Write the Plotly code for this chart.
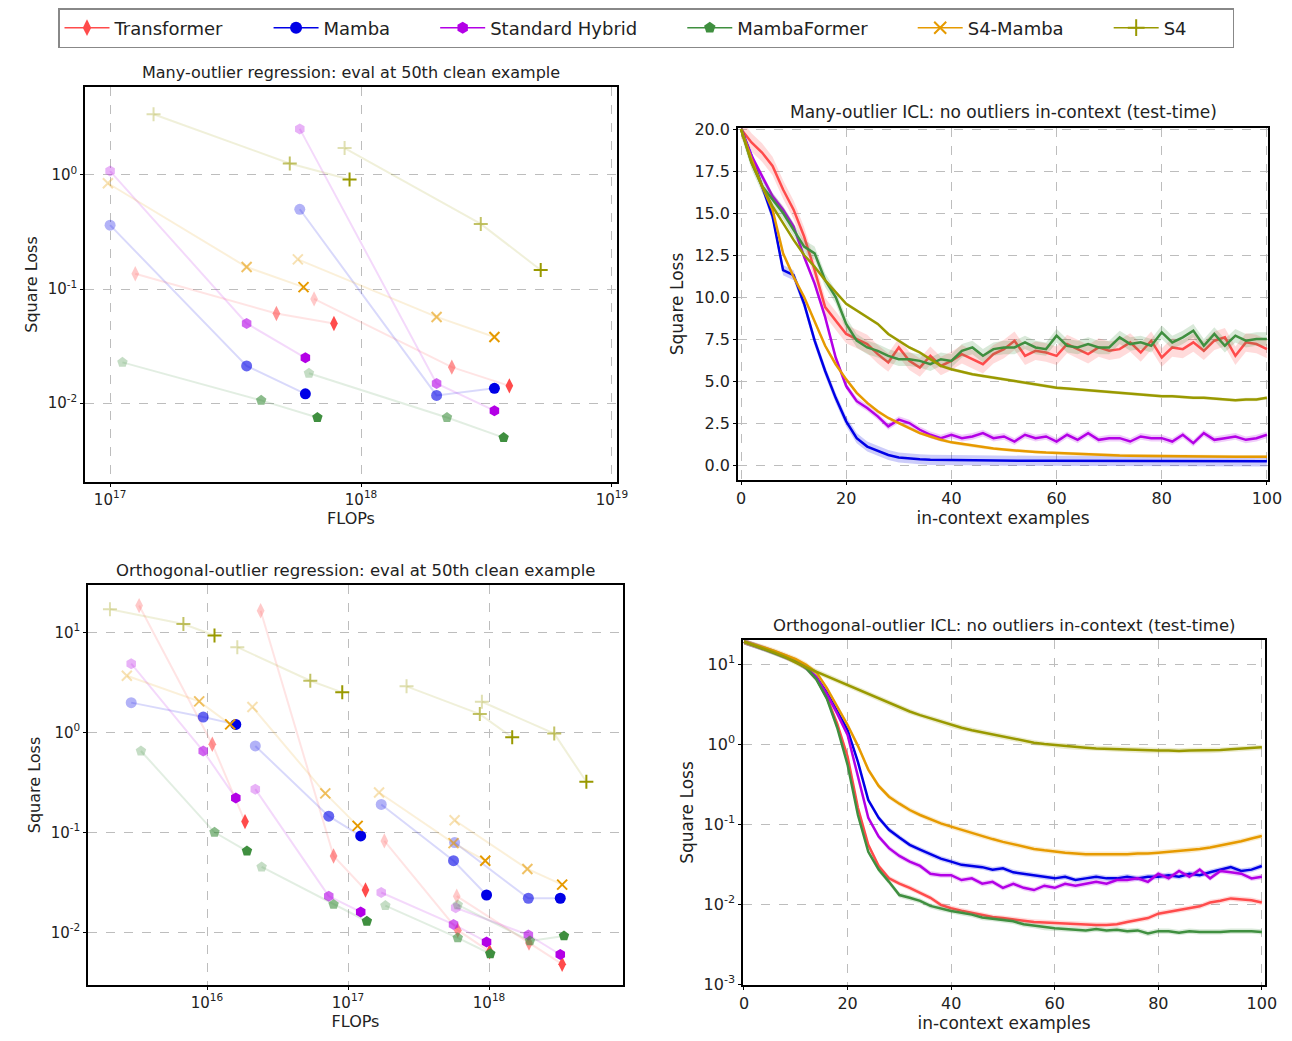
import numpy as np
import plotly.graph_objects as go
from plotly.subplots import make_subplots

# ---- models / styles ----
models = ["Transformer", "Mamba", "Standard Hybrid", "MambaFormer", "S4-Mamba", "S4"]
colors = ["#ff4b4b", "#0000e6", "#b300e6", "#3f8f3f", "#e69a00", "#999900"]
symbols = ["diamond-tall", "circle", "hexagon", "pentagon", "x-thin-open", "cross-thin-open"]

# ---- top-left: many-outlier regression (FLOPs, loss), 2 groups per model ----
tl_flops = {
    "Transformer": [[1.26e17, 4.6e17, 7.8e17], [6.5e17, 2.3e18, 3.9e18]],
    "Mamba": [[1.0e17, 3.5e17, 6.0e17], [5.7e17, 2.0e18, 3.4e18]],
    "Standard Hybrid": [[1.0e17, 3.5e17, 6.0e17], [5.7e17, 2.0e18, 3.4e18]],
    "MambaFormer": [[1.12e17, 4.0e17, 6.7e17], [6.2e17, 2.2e18, 3.7e18]],
    "S4-Mamba": [[9.8e16, 3.5e17, 5.9e17], [5.6e17, 2.0e18, 3.4e18]],
    "S4": [[1.49e17, 5.2e17, 9.0e17], [8.6e17, 3.0e18, 5.2e18]],
}
tl_loss = {
    "Transformer": [[0.136, 0.061, 0.050], [0.082, 0.0207, 0.0142]],
    "Mamba": [[0.363, 0.0212, 0.0121], [0.50, 0.0117, 0.0135]],
    "Standard Hybrid": [[1.08, 0.050, 0.025], [2.53, 0.0149, 0.0086]],
    "MambaFormer": [[0.0228, 0.0106, 0.0075], [0.0183, 0.0075, 0.0050]],
    "S4-Mamba": [[0.845, 0.156, 0.104], [0.182, 0.057, 0.038]],
    "S4": [[3.4, 1.26, 0.91], [1.72, 0.372, 0.147]],
}

# ---- bottom-left: orthogonal-outlier regression, 4 groups per model ----
bl_flops = {
    "Transformer": [[3.3e15, 1.09e16, 1.86e16], [2.4e16, 7.9e16, 1.33e17],
                    [1.81e17, 6.0e17, 1.01e18], [5.9e17, 1.92e18, 3.3e18]],
    "Mamba": [[2.9e15, 9.4e15, 1.6e16], [2.2e16, 7.3e16, 1.23e17],
              [1.72e17, 5.6e17, 9.6e17], [5.7e17, 1.9e18, 3.2e18]],
    "Standard Hybrid": [[2.9e15, 9.4e15, 1.6e16], [2.2e16, 7.3e16, 1.23e17],
                        [1.72e17, 5.6e17, 9.6e17], [5.8e17, 1.9e18, 3.2e18]],
    "MambaFormer": [[3.4e15, 1.13e16, 1.92e16], [2.44e16, 7.9e16, 1.36e17],
                    [1.84e17, 6.0e17, 1.02e18], [6.0e17, 1.95e18, 3.4e18]],
    "S4-Mamba": [[2.7e15, 8.8e15, 1.46e16], [2.1e16, 6.9e16, 1.17e17],
                 [1.66e17, 5.6e17, 9.4e17], [5.7e17, 1.87e18, 3.3e18]],
    "S4": [[2.05e15, 6.8e15, 1.13e16], [1.64e16, 5.4e16, 9.1e16],
           [2.6e17, 8.6e17, 1.46e18], [8.9e17, 2.9e18, 4.9e18]],
}
bl_loss = {
    "Transformer": [[18.5, 0.76, 0.128], [16.4, 0.058, 0.0265],
                    [0.082, 0.0105, 0.0064], [0.023, 0.0078, 0.0048]],
    "Mamba": [[1.98, 1.42, 1.2], [0.73, 0.145, 0.092],
              [0.19, 0.052, 0.0236], [0.079, 0.0219, 0.0219]],
    "Standard Hybrid": [[4.85, 0.65, 0.22], [0.27, 0.023, 0.016],
                        [0.025, 0.012, 0.008], [0.0176, 0.0094, 0.006]],
    "MambaFormer": [[0.65, 0.10, 0.065], [0.045, 0.019, 0.0129],
                    [0.0185, 0.0088, 0.0061], [0.0188, 0.0082, 0.0092]],
    "S4-Mamba": [[3.68, 2.04, 1.2], [1.79, 0.245, 0.116],
                 [0.25, 0.078, 0.052], [0.132, 0.043, 0.030]],
    "S4": [[17.0, 12.1, 9.3], [7.1, 3.28, 2.51],
           [2.88, 1.52, 0.89], [2.02, 0.97, 0.32]],
}

# ---- right panels: loss vs in-context examples (every 2nd example) ----
icl_x = list(range(0, 101, 2))
tr_loss = {
    "Transformer": [20, 19.2, 18.6, 17.8, 16.4, 15.2, 13.6, 11.6, 9.4, 8.6, 7.8, 7.5, 7.2, 6.6, 6.1, 7.0,
                    6.2, 5.8, 6.5, 5.9, 6.2, 6.6, 6.3, 6.0, 6.6, 6.9, 7.4, 6.5, 6.8, 6.7, 6.5, 7.2,
                    6.9, 6.6, 7.0, 6.8, 6.9, 7.3, 6.7, 7.4, 6.4, 7.0, 6.9, 7.3, 6.8, 7.4, 7.6, 6.5,
                    7.3, 7.2, 6.9],
    "Mamba": [20, 18.4, 16.6, 14.8, 11.6, 11.3, 9.6, 7.4, 5.6, 4.0, 2.6, 1.6, 1.1, 0.85, 0.6, 0.45,
              0.38, 0.34, 0.31, 0.30, 0.29, 0.28, 0.28, 0.27, 0.27, 0.26, 0.26, 0.26, 0.25, 0.25, 0.25,
              0.25, 0.24, 0.24, 0.24, 0.24, 0.24, 0.23, 0.23, 0.23, 0.23, 0.23, 0.23, 0.23, 0.22, 0.22,
              0.22, 0.22, 0.22, 0.22, 0.22],
    "Standard Hybrid": [20, 18.4, 17.2, 16.0, 15.2, 14.2, 12.4, 10.8, 8.8, 6.4, 4.7, 3.8, 3.4, 2.9, 2.3,
                        2.7, 2.5, 2.1, 1.8, 1.6, 1.8, 1.6, 1.7, 1.9, 1.6, 1.7, 1.4, 1.8, 1.6, 1.7, 1.4,
                        1.8, 1.5, 1.9, 1.5, 1.6, 1.6, 1.4, 1.7, 1.6, 1.6, 1.4, 1.8, 1.3, 1.9, 1.5, 1.6,
                        1.7, 1.5, 1.6, 1.8],
    "MambaFormer": [20, 18.0, 16.6, 15.8, 15.0, 14.0, 13.0, 12.6, 11.0, 10.0, 8.4, 7.4, 7.0, 6.8, 6.5,
                    6.3, 6.3, 6.2, 6.0, 6.3, 6.2, 6.8, 7.0, 6.5, 6.9, 7.0, 7.0, 7.3, 7.0, 6.9, 7.7,
                    7.1, 7.0, 7.2, 7.0, 7.0, 7.6, 7.2, 7.3, 7.1, 7.9, 7.3, 7.6, 8.0, 7.1, 7.8, 7.1,
                    7.7, 7.4, 7.5, 7.5],
    "S4-Mamba": [20, 18.2, 16.6, 15.2, 12.6, 11.2, 10.0, 8.5, 7.1, 6.0, 5.1, 4.3, 3.7, 3.2, 2.8, 2.5,
                 2.2, 1.9, 1.7, 1.5, 1.35, 1.25, 1.15, 1.05, 0.98, 0.92, 0.86, 0.82, 0.78, 0.74, 0.71,
                 0.68, 0.65, 0.63, 0.61, 0.59, 0.57, 0.56, 0.55, 0.54, 0.53, 0.52, 0.52, 0.51, 0.51,
                 0.5, 0.5, 0.5, 0.5, 0.5, 0.5],
    "S4": [20, 18.0, 16.6, 15.4, 14.4, 13.4, 12.5, 11.8, 11.0, 10.3, 9.6, 9.2, 8.8, 8.4, 7.8, 7.4,
           7.0, 6.7, 6.3, 5.9, 5.7, 5.55, 5.4, 5.3, 5.2, 5.1, 5.0, 4.9, 4.8, 4.7, 4.6, 4.55, 4.5,
           4.45, 4.4, 4.35, 4.3, 4.25, 4.2, 4.15, 4.1, 4.1, 4.05, 4.0, 4.0, 3.95, 3.9, 3.85, 3.9,
           3.9, 4.0],
}
br_loss = {
    "Transformer": [19, 17.2, 15.5, 13.9, 12.4, 10.9, 9.0, 6.5, 3.8, 1.8, 0.7, 0.16, 0.055, 0.030,
                    0.021, 0.018, 0.016, 0.014, 0.012, 0.0098, 0.0089, 0.0083, 0.0078, 0.0073, 0.0069,
                    0.0067, 0.0064, 0.0062, 0.0060, 0.0059, 0.0058, 0.0057, 0.0056, 0.0055, 0.0055,
                    0.0055, 0.0056, 0.0060, 0.0064, 0.0067, 0.0076, 0.0080, 0.0085, 0.0089, 0.0094,
                    0.0105, 0.0110, 0.0118, 0.0114, 0.0112, 0.0105],
    "Mamba": [19, 17.3, 15.6, 14.0, 12.5, 11.0, 9.0, 6.8, 4.4, 2.6, 1.5, 0.6, 0.2, 0.12, 0.085, 0.068,
              0.055, 0.048, 0.042, 0.037, 0.034, 0.031, 0.030, 0.029, 0.027, 0.028, 0.025, 0.024,
              0.023, 0.022, 0.021, 0.022, 0.020, 0.021, 0.022, 0.021, 0.021, 0.022, 0.021, 0.022,
              0.022, 0.023, 0.022, 0.024, 0.023, 0.025, 0.027, 0.029, 0.026, 0.027, 0.030],
    "Standard Hybrid": [19, 17.2, 15.5, 13.9, 12.4, 10.9, 9.0, 6.8, 4.2, 2.4, 1.3, 0.41, 0.12, 0.07,
                        0.05, 0.04, 0.034, 0.030, 0.024, 0.023, 0.023, 0.020, 0.021, 0.018, 0.019,
                        0.016, 0.018, 0.016, 0.015, 0.017, 0.016, 0.018, 0.017, 0.018, 0.019, 0.018,
                        0.020, 0.020, 0.021, 0.019, 0.024, 0.021, 0.026, 0.022, 0.027, 0.021, 0.026,
                        0.025, 0.024, 0.021, 0.022],
    "MambaFormer": [19, 17.0, 15.4, 13.8, 12.3, 10.8, 8.9, 6.4, 3.7, 1.6, 0.55, 0.13, 0.045, 0.027,
                    0.019, 0.013, 0.012, 0.011, 0.0095, 0.0088, 0.0082, 0.0078, 0.0074, 0.0068, 0.0066,
                    0.0064, 0.0061, 0.0056, 0.0054, 0.0051, 0.0050, 0.0049, 0.0048, 0.0047, 0.0049,
                    0.0047, 0.0048, 0.0046, 0.0047, 0.0043, 0.0046, 0.0046, 0.0044, 0.0046, 0.0045,
                    0.0045, 0.0045, 0.0046, 0.0046, 0.0046, 0.0045],
    "S4-Mamba": [19, 17.5, 16.0, 14.5, 13.0, 11.5, 9.8, 7.8, 5.0, 3.0, 1.73, 0.95, 0.48, 0.30, 0.22,
                 0.18, 0.15, 0.13, 0.115, 0.102, 0.093, 0.085, 0.077, 0.070, 0.065, 0.060, 0.056,
                 0.052, 0.049, 0.047, 0.045, 0.044, 0.043, 0.042, 0.042, 0.042, 0.042, 0.042, 0.043,
                 0.043, 0.044, 0.045, 0.046, 0.047, 0.049, 0.051, 0.054, 0.057, 0.061, 0.066, 0.071],
    "S4": [19, 17.2, 15.5, 13.8, 12.2, 10.4, 9.1, 8.0, 7.0, 6.2, 5.5, 4.8, 4.2, 3.7, 3.25, 2.85, 2.55,
           2.3, 2.1, 1.9, 1.73, 1.6, 1.49, 1.40, 1.31, 1.23, 1.16, 1.10, 1.04, 1.00, 0.97, 0.94, 0.92,
           0.90, 0.88, 0.87, 0.86, 0.85, 0.84, 0.83, 0.83, 0.83, 0.82, 0.83, 0.83, 0.83, 0.84, 0.86,
           0.88, 0.89, 0.91],
}
# half-width of the shaded error band (linear panel) / relative band (log panel)
tr_band = {"Transformer": 0.55, "Mamba": 0.3, "Standard Hybrid": 0.2, "MambaFormer": 0.4,
           "S4-Mamba": 0.1, "S4": 0.1}
br_band = 0.08

FONT = "DejaVu Sans"
# the page adds an 8px body margin, so the figure is 16px smaller than the window
W, H, OFF = 1276, 1025, 8


def dx(a, b):
    return [(a - OFF) / W, (b - OFF) / W]


def dy(top, bot):
    return [1 - (bot - OFF) / H, 1 - (top - OFF) / H]


fig = make_subplots(rows=2, cols=2)

opac = [0.3, 0.6, 1.0]


def rgba(hexcol, a):
    h = hexcol.lstrip("#")
    return "rgba(%d,%d,%d,%s)" % (int(h[0:2], 16), int(h[2:4], 16), int(h[4:6], 16), a)


def scatter_groups(flops, loss, row, col):
    for m, c, s in zip(models, colors, symbols):
        for fx, ly in zip(flops[m], loss[m]):
            fig.add_trace(go.Scatter(x=fx, y=ly, mode="lines", line=dict(color=rgba(c, 0.15), width=2),
                                     showlegend=False, hoverinfo="skip"), row=row, col=col)
            open_sym = "open" in s
            fig.add_trace(go.Scatter(
                x=fx, y=ly, mode="markers", showlegend=False,
                marker=dict(symbol=s, size=11 if not open_sym else 10, opacity=opac,
                            color=c, line=dict(color=c, width=2 if open_sym else 0))),
                row=row, col=col)


scatter_groups(tl_flops, tl_loss, 1, 1)
scatter_groups(bl_flops, bl_loss, 2, 1)

for m, c in zip(models, colors):
    y = np.array(tr_loss[m])
    b = tr_band[m]
    fig.add_trace(go.Scatter(x=icl_x + icl_x[::-1], y=list(y + b) + list((y - b)[::-1]), fill="toself",
                             fillcolor=rgba(c, 0.2), line=dict(width=0), showlegend=False,
                             hoverinfo="skip"), row=1, col=2)
    fig.add_trace(go.Scatter(x=icl_x, y=y, mode="lines", line=dict(color=c, width=2.5),
                             showlegend=False), row=1, col=2)
    y2 = np.array(br_loss[m])
    fig.add_trace(go.Scatter(x=icl_x + icl_x[::-1],
                             y=list(y2 * (1 + br_band)) + list((y2 / (1 + br_band))[::-1]),
                             fill="toself", fillcolor=rgba(c, 0.2), line=dict(width=0),
                             showlegend=False, hoverinfo="skip"), row=2, col=2)
    fig.add_trace(go.Scatter(x=icl_x, y=y2, mode="lines", line=dict(color=c, width=2.5),
                             showlegend=False), row=2, col=2)

# legend entries
for m, c, s in zip(models, colors, symbols):
    open_sym = "open" in s
    fig.add_trace(go.Scatter(x=[None], y=[None], mode="lines+markers", name=m + "       ",
                             line=dict(color=c, width=1.5),
                             marker=dict(symbol=s, size=12, color=c,
                                         line=dict(color=c, width=2 if open_sym else 0))))

grid = dict(showgrid=True, gridcolor="#bdbdbd", griddash="dash", gridwidth=0.8,
            showline=True, linecolor="black", linewidth=1.5, mirror=True, zeroline=False,
            ticks="outside", tickcolor="black", ticklen=3,
            tickfont=dict(size=15, color="#222"))


def sup(e):
    return "10<sup>%d</sup>" % e


fig.update_layout(
    xaxis=dict(grid, type="log", domain=dx(85, 617), range=[16.9, 19.02],
               tickvals=[1e17, 1e18, 1e19], ticktext=[sup(17), sup(18), sup(19)],
               title=dict(text="FLOPs", font=dict(size=16), standoff=4)),
    yaxis=dict(grid, type="log", domain=dy(87, 482), range=[-2.69, 0.77],
               tickvals=[1e-2, 1e-1, 1], ticktext=[sup(-2), sup(-1), sup(0)],
               title=dict(text="Square Loss", font=dict(size=16), standoff=6)),
    xaxis2=dict(grid, domain=dx(738, 1268), range=[-0.57, 100.2], dtick=20,
                title=dict(text="in-context examples", font=dict(size=17), standoff=4),
                tickfont=dict(size=16, color="#222")),
    yaxis2=dict(grid, domain=dy(128, 480), range=[-0.89, 20.06], dtick=2.5, tickformat=".1f",
                title=dict(text="Square Loss", font=dict(size=17), standoff=6),
                tickfont=dict(size=16, color="#222")),
    xaxis3=dict(grid, type="log", domain=dx(88, 623), range=[15.156, 18.95],
                tickvals=[1e16, 1e17, 1e18], ticktext=[sup(16), sup(17), sup(18)],
                title=dict(text="FLOPs", font=dict(size=16), standoff=4)),
    yaxis3=dict(grid, type="log", domain=dy(585, 985), range=[-2.527, 1.473],
                tickvals=[1e-2, 1e-1, 1, 10], ticktext=[sup(-2), sup(-1), sup(0), sup(1)],
                title=dict(text="Square Loss", font=dict(size=16), standoff=6)),
    xaxis4=dict(grid, domain=dx(743, 1265), range=[-0.19, 100.6], dtick=20,
                title=dict(text="in-context examples", font=dict(size=17), standoff=2),
                tickfont=dict(size=16, color="#222")),
    yaxis4=dict(grid, type="log", domain=dy(640, 985), range=[-3.01, 1.3],
                tickvals=[1e-3, 1e-2, 1e-1, 1, 10],
                ticktext=[sup(-3), sup(-2), sup(-1), sup(0), sup(1)],
                title=dict(text="Square Loss", font=dict(size=17), standoff=6),
                tickfont=dict(size=16, color="#222")),
)

titles = [
    ("Many-outlier regression: eval at 50th clean example", 351, 72, 16),
    ("Many-outlier ICL: no outliers in-context (test-time)", 1003, 112, 17),
    ("Orthogonal-outlier regression: eval at 50th clean example", 355, 570, 16.5),
    ("Orthogonal-outlier ICL: no outliers in-context (test-time)", 1004, 625, 16.5),
]
fig.update_layout(annotations=[dict(text=t, x=(x - OFF) / W, y=1 - (y - OFF) / H, xref="paper",
                                    yref="paper", showarrow=False, xanchor="center",
                                    yanchor="middle", font=dict(size=s))
                               for t, x, y, s in titles])

fig.update_layout(
    width=W, height=H, margin=dict(l=0, r=0, t=0, b=0, autoexpand=False),
    paper_bgcolor="white", plot_bgcolor="white",
    font=dict(family=FONT, color="#222", size=15),
    legend=dict(orientation="h", x=(646 - OFF) / W, xanchor="center", y=1.0,
                yanchor="top", bordercolor="#888", borderwidth=1.5, font=dict(size=18),
                itemwidth=45, bgcolor="white"),
)

fig.write_html("out.html")
